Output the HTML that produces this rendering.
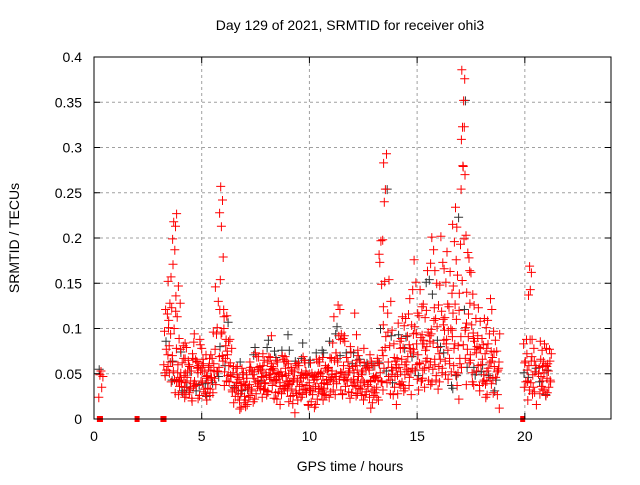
<!DOCTYPE html>
<html><head><meta charset="utf-8"><style>
body{margin:0;background:#fff;width:640px;height:480px;overflow:hidden}
text{font-family:"Liberation Sans",sans-serif;font-size:14px;fill:#000}
</style></head><body>
<svg id="chart" width="640" height="480">
<text x="350" y="30" text-anchor="middle">Day 129 of 2021, SRMTID for receiver ohi3</text>
<text x="350" y="471" text-anchor="middle">GPS time / hours</text>
<text transform="translate(19,238) rotate(-90)" text-anchor="middle">SRMTID / TECUs</text>
<g id="grid"></g>
<g id="marks"></g>
<g id="axes"></g>
</svg>
<script>
const xTicks=[0,5,10,15,20];
const yTicks=[0,0.05,0.1,0.15,0.2,0.25,0.3,0.35,0.4];
const yTickLabels=["0","0.05","0.1","0.15","0.2","0.25","0.3","0.35","0.4"];
const zeroHours=[0.25,0.3,2.0,3.2,3.25,19.9];
const binHours=[0.2,3.2,3.4,3.6,3.8,4.0,4.2,4.4,4.6,4.8,5.0,5.2,5.4,5.6,5.8,6.0,6.2,6.4,6.6,6.8,7.0,7.2,7.4,7.6,7.8,8.0,8.2,8.4,8.6,8.8,9.0,9.2,9.4,9.6,9.8,10.0,10.2,10.4,10.6,10.8,11.0,11.2,11.4,11.6,11.8,12.0,12.2,12.4,12.6,12.8,13.0,13.2,13.4,13.6,13.8,14.0,14.2,14.4,14.6,14.8,15.0,15.2,15.4,15.6,15.8,16.0,16.2,16.4,16.6,16.8,17.0,17.2,17.4,17.6,17.8,18.0,18.2,18.4,18.6,19.9,20.1,20.3,20.6,20.8,21.0];
const binValues=[
[28,35,45,48,50,57],
[45,60,75,100,115,125,60,50,52,68,88],
[40,55,70,90,110,120,130,150,160,80,47,63,97],
[200,210,220,225,190,170,140,100,60,30,50,80,42,66,118],
[30,40,50,60,70,90,110,130,145,45,35,55,77,38],
[20,30,40,50,60,70,80,45,35,25,52,64,33],
[25,35,45,55,65,75,30,50,42,58,38,83],
[20,30,40,50,60,70,45,35,27,53,63],
[25,35,45,55,70,85,60,40,48,33,92,66],
[30,40,50,60,75,90,55,45,37,63,82],
[25,35,45,55,65,75,30,50,40,58,47],
[20,30,40,50,60,45,35,55,28,66,38],
[30,40,55,65,80,95,50,45,36,72,58],
[60,100,150,130,90,70,50,40,45,55,120],
[150,180,210,230,240,260,120,100,80,60,95,110,72],
[40,55,70,85,100,110,60,45,90,35,78,66],
[30,45,60,75,90,105,50,40,36,62,82],
[20,30,40,50,60,35,45,26,55,42,32],
[15,25,35,45,55,65,30,40,20,50,28],
[10,20,30,40,50,35,25,45,15,38,58],
[15,25,35,45,55,30,40,22,48,62,37],
[20,30,40,50,60,70,35,26,45,55,42],
[25,35,45,55,65,80,40,30,50,60,72],
[30,40,50,60,70,45,35,28,55,65,48],
[25,35,45,55,65,75,40,30,50,38,62],
[30,40,50,60,70,85,95,45,35,55,65],
[25,35,45,55,65,75,50,30,40,60,48],
[20,30,40,50,60,70,45,25,35,55,65],
[25,35,45,55,65,80,40,30,50,60,72],
[30,40,50,60,70,90,50,35,45,55,65],
[20,30,40,50,60,75,45,25,35,55,38],
[10,25,35,45,55,65,40,30,50,20,60],
[20,30,40,50,60,70,35,25,45,55,42],
[25,35,45,55,65,80,50,30,40,60,72],
[15,25,35,45,55,60,40,30,20,50,36],
[15,25,35,45,55,65,30,20,40,50,60],
[20,30,40,50,60,75,45,25,35,55,66],
[25,35,45,55,65,80,50,30,40,60,70],
[20,30,40,50,60,70,45,25,35,55,38],
[25,35,45,55,70,85,60,30,40,50,65],
[30,40,50,65,80,95,110,55,45,35,72],
[35,45,60,75,90,105,120,130,50,40,68,85],
[25,35,45,55,70,85,95,40,30,50,62],
[30,40,50,60,75,90,45,35,55,68,82],
[25,35,45,55,65,80,40,30,50,60,72],
[30,40,50,60,70,95,115,45,35,55,65],
[25,35,45,55,65,80,40,30,50,60,72],
[20,30,40,50,60,75,35,25,45,55,66],
[25,35,45,55,65,70,40,30,50,60,38],
[15,25,35,45,55,65,30,20,40,50,60],
[20,30,40,50,60,70,45,25,35,55,65],
[30,45,60,80,100,120,150,170,200,195,185,40,55,70],
[240,250,255,280,295,150,120,90,60,40,75,105,50],
[30,45,60,80,100,130,150,50,40,65,90],
[20,35,50,65,80,100,45,30,55,72,40],
[25,40,55,70,85,110,60,35,50,75,95],
[30,45,60,75,90,100,115,50,40,65,82],
[35,50,65,80,95,110,120,55,45,70,88],
[30,45,60,75,90,105,130,145,50,40,68,82],
[40,55,70,85,100,120,150,180,60,50,78,92],
[30,45,60,75,90,110,125,140,50,40,65,82],
[35,50,65,80,95,110,130,150,60,45,72,88],
[40,55,70,85,100,120,150,165,60,45,78,95],
[45,60,80,100,120,140,170,190,200,70,55,90,110],
[30,50,70,90,110,130,150,160,80,40,60,100],
[40,60,80,100,120,145,175,200,90,50,70,110],
[50,70,90,110,130,150,170,185,60,45,80,100],
[40,60,80,100,120,140,160,100,50,70,90],
[30,50,75,100,125,150,175,200,215,230,60,45,85,115],
[20,40,60,85,110,135,160,190,225,210,70,50,95,120],
[270,275,310,320,325,350,355,385,380,280,250,200,150,100,80,60,120],
[40,60,80,100,120,140,160,185,200,180,55,70,90,110],
[45,65,85,105,125,140,160,60,50,75,95],
[35,55,75,95,110,130,80,45,60,70,88],
[30,45,60,75,90,105,125,50,40,65,82],
[25,40,55,70,85,100,115,60,35,50,75],
[30,45,60,75,90,110,130,50,40,65,82],
[25,40,55,70,85,100,120,35,45,60,75],
[10,30,45,60,75,90,55,40,65,50],
[35,50,65,80,90,60,45,40,55,72],
[145,135,165,168,25,40,55,70,85,48,62,35],
[20,30,45,60,75,90,50,38,55,68,28],
[25,35,45,60,75,90,50,32,42,55,68],
[25,35,45,55,65,75,85,40,30,50,62],
[30,40,55,70,80,60,45,35,50,65]
];
const NS="http://www.w3.org/2000/svg";
const L=94,R=611,T=57,B=419;
const xs=h=>L+h*(R-L)/24;
const ys=v=>B-v*(B-T)/0.4;
function mk(tag,attrs,parent){const e=document.createElementNS(NS,tag);for(const k in attrs)e.setAttribute(k,attrs[k]);parent.appendChild(e);return e;}
const grid=document.getElementById('grid'),marks=document.getElementById('marks'),axes=document.getElementById('axes');
xTicks.forEach(t=>{
 if(t>0){const g=mk('line',{x1:xs(t),x2:xs(t),y1:T,y2:B,stroke:'#a0a0a0','stroke-dasharray':'3,3'},grid);
 
 }
 const tk=mk('path',{d:`M${xs(t)},${B}v-6M${xs(t)},${T}v6`,stroke:'#000'},axes);
 
 
 const lb=mk('text',{x:xs(t),y:B+22,'text-anchor':'middle'},axes);lb.textContent=t;
 
 
});
yTicks.forEach((v,i)=>{
 if(v>0&&v<0.4){const g=mk('line',{x1:L,x2:R,y1:ys(v),y2:ys(v),stroke:'#a0a0a0','stroke-dasharray':'3,3'},grid);
 
 }
 const tk=mk('path',{d:`M${L},${ys(v)}h6M${R},${ys(v)}h-6`,stroke:'#000'},axes);
 
 
 const lb=mk('text',{x:L-12,y:ys(v)+5,'text-anchor':'end'},axes);lb.textContent=yTickLabels[i];
 
 
});
let d='',dg='',cnt=0;
binHours.forEach((h,b)=>{
 const vals=binValues[b],n=vals.length;
 vals.forEach((v,i)=>{
  const frac=((i*0.618+b*0.37)%1);
  const t=h+frac*0.22;
  const jit=((i*13+b*7)%9)-4;
  const x=+xs(t).toFixed(1),y=+ys((v+jit)/1000).toFixed(1);
  const s=`M${x-4},${y}h9M${x+0.5},${y-4}v9`;
  if(cnt++%11==5)dg+=s;else d+=s;
 });
});
const pg=mk('path',{d:dg,stroke:'#333','stroke-width':1,fill:'none'},marks);


const pr=mk('path',{d:d,stroke:'#ff0000','stroke-width':1,fill:'none'},marks);


zeroHours.forEach(h=>{
 const r=mk('rect',{x:xs(h)-2.5,y:B-3,width:5,height:6,fill:'#ff0000'},marks);
 
 
});
const frame=mk('rect',{x:L,y:T,width:R-L,height:B-T,fill:'none',stroke:'#000'},axes);


</script>
</body></html>
